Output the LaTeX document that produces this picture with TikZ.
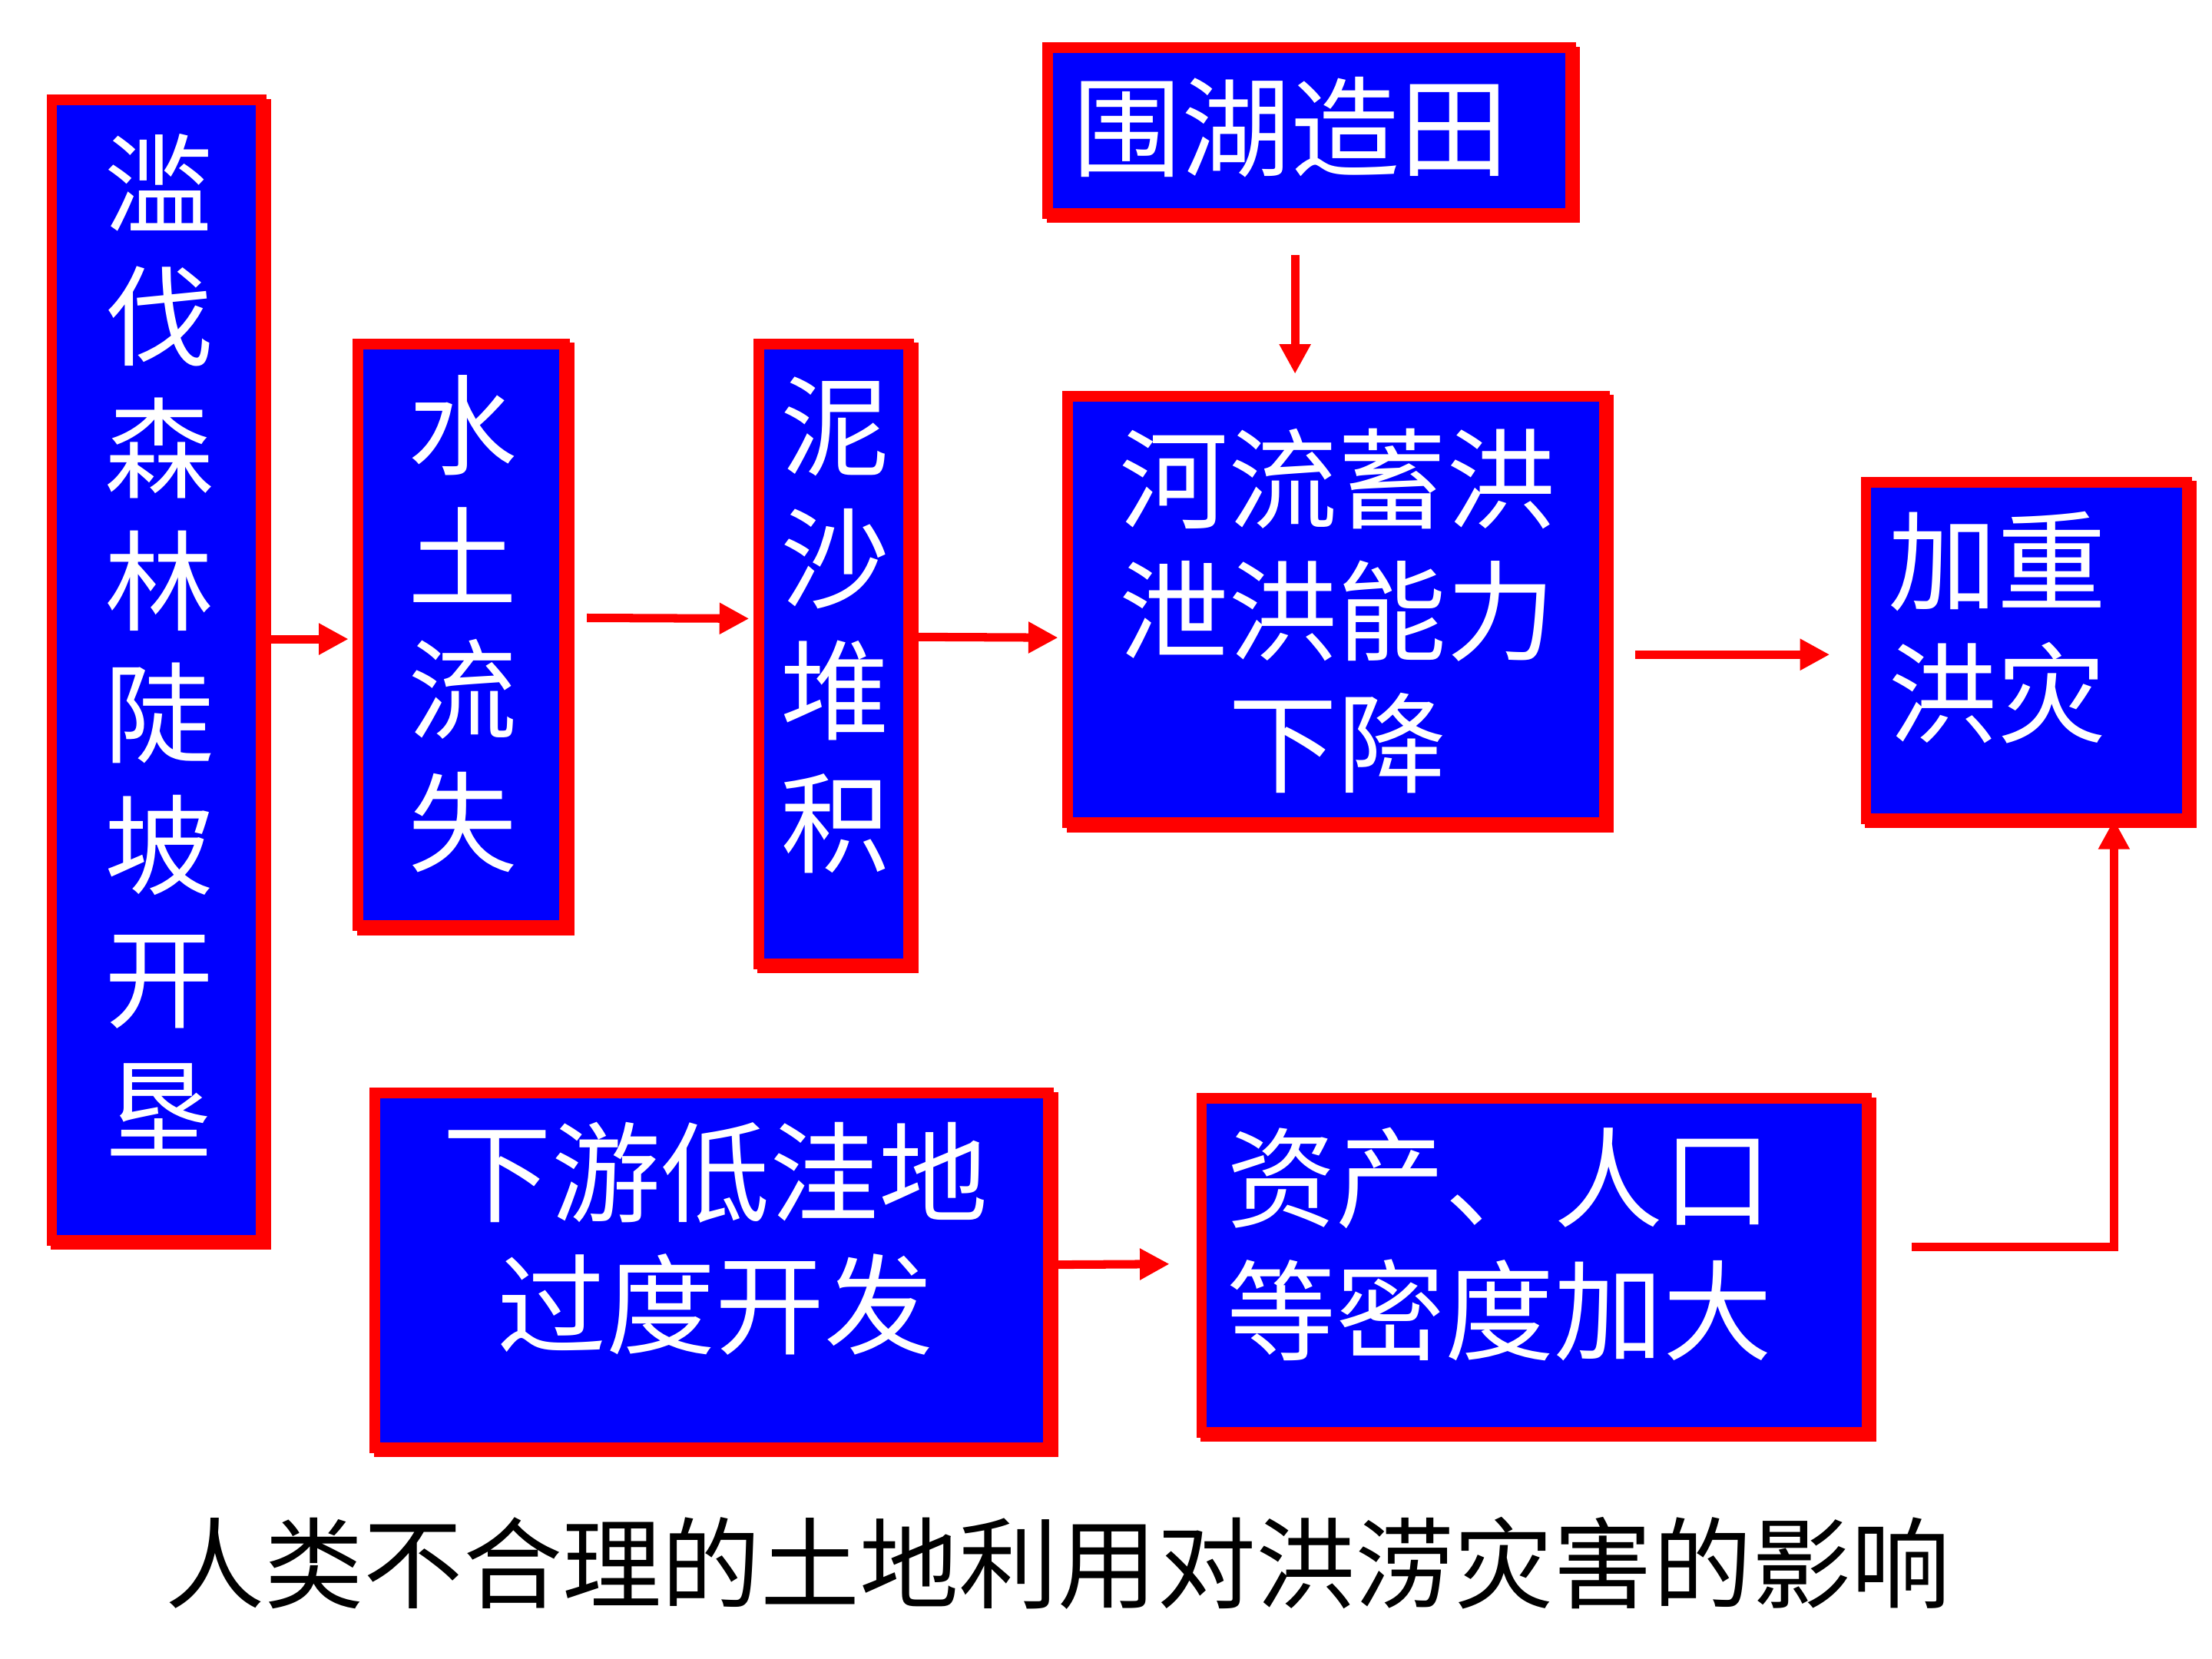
\documentclass[tikz,border=0pt]{standalone}
\usepackage{fontspec}
\setmainfont{Noto Sans CJK SC}
\usetikzlibrary{arrows.meta,calc}
\tikzset{
  boxst/.style={draw=red, fill=blue, line width=0.15cm, inner sep=0pt},
  shadowst/.style={fill=red},
  txt/.style={text=white, font=\fontsize{44pt}{53.4pt}\selectfont, align=center, inner sep=0pt},
  txtl/.style={txt, align=left},
  titlest/.style={text=black, font=\fontsize{40pt}{48pt}\selectfont, inner sep=0pt},
  arr/.style={draw=red, line width=0.12cm, -{Triangle[width=0.42cm,length=0.42cm]}},
}
\newcommand\flowbox[5]{%
  \pgfmathsetmacro\bw{(#4-#2-3-7.5)*0.02}%
  \pgfmathsetmacro\bh{(#5-#3-3-7.5)*0.02}%
  \pgfmathsetmacro\bx{(#2+#4-3)/2}%
  \pgfmathsetmacro\by{-(#3+#5-3)/2}%
  \fill[shadowst] (#2+3,-#3-3) rectangle (#4,-#5);
  \node[boxst, minimum width=\bw cm, minimum height=\bh cm] (#1) at (\bx,\by) {};
}
\begin{document}
\begin{tikzpicture}[x=0.02cm, y=0.02cm]
\fill[white] (0,0) rectangle (1568,-1176);
\useasboundingbox (0,0) rectangle (1568,-1176);

\flowbox{b1}{33}{67}{192}{886}
\flowbox{b2}{250}{240}{407}{663}
\flowbox{b3}{534}{240}{651}{690}
\flowbox{b4}{739}{30}{1120}{158}
\flowbox{b5}{753}{277}{1144}{590}
\flowbox{b6}{1319}{338}{1557}{587}
\flowbox{b7}{262}{771}{750}{1033}
\flowbox{b8}{848}{775}{1330}{1022}

\node[txt] (t1) at (113,-457) {滥\\伐\\森\\林\\陡\\坡\\开\\垦};
\node[txt] (t2) at (328,-442) {水\\土\\流\\失};
\node[txt] (t3) at (592,-443) {泥\\沙\\堆\\积};
\node[txt] (t4) at (915,-90) {围湖造田};
\node[txt] (t5) at (948,-433) {河流蓄洪\\泄洪能力\\下降};
\node[txtl] (t6) at (1416,-445) {加重\\洪灾};
\node[txt] (t7) at (507,-878) {下游低洼地\\过度开发};
\node[txtl] (t8) at (1063,-882) {资产、人口\\等密度加大};
\node[titlest] (title) at (750,-1108) {人类不合理的土地利用对洪涝灾害的影响};

\draw[arr] ($(b1.east)+(0,22)$) -- ($(b2.west)+(-3,-3)$);
\draw[arr] ($(b2.east)+(12,12)$) -- ($(b3.west)+(-3,25)$);
\draw[arr] ($(b3.east)+(0,12)$) -- ($(b5.west)+(-3,-20)$);
\draw[arr] ($(b4.south)+(-10,-26)$) -- ($(b5.north)+(-29,12)$);
\draw[arr] ($(b5.east)+(18,-32)$) -- ($(b6.west)+(-22,-3)$);
\draw[arr] ($(b7.east)+(0,4)$) -- ($(b8.west)+(-19,1)$);
\draw[arr] ($(b8.east)+(28,13)$) -| ($(b6.south)+(62,3)$);
\end{tikzpicture}
\end{document}
